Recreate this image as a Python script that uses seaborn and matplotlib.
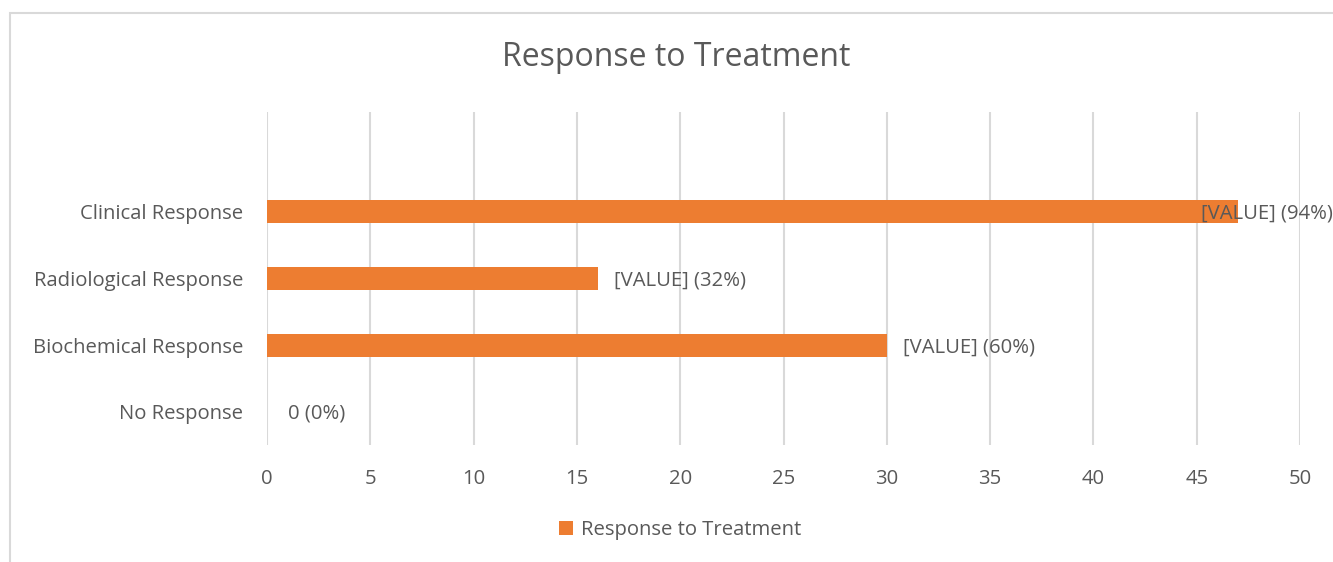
import matplotlib
matplotlib.use("Agg")
import matplotlib.pyplot as plt
from matplotlib.patches import Rectangle, Patch
import seaborn as sns
import pandas as pd

categories = ["Clinical Response", "Radiological Response", "Biochemical Response", "No Response"]
counts = [47, 16, 30, 0]
percents = [94, 32, 60, 0]
bar_labels = ["[VALUE] (94%)", "[VALUE] (32%)", "[VALUE] (60%)", "0 (0%)"]
x_ticks = [0, 5, 10, 15, 20, 25, 30, 35, 40, 45, 50]
series_name = "Response to Treatment"

sns.set_theme(style="white")
plt.rcParams["font.family"] = ["Open Sans", "DejaVu Sans"]

TEXT = "#595959"
GRID = "#D9D9D9"
ORANGE = "#ED7D31"
FS = 14.6

W, H = 1333, 562
fig = plt.figure(figsize=(W / 100, H / 100), dpi=100)
fig.patch.set_facecolor("white")

# chart frame (open on the right and bottom edges)
fig.patches.append(Rectangle((10 / W, -0.1), 1.2, 1 - 13 / H + 0.1,
                             transform=fig.transFigure, fill=False,
                             edgecolor=GRID, linewidth=1.5))

ax = fig.add_axes([267 / W, 1 - 445 / H, (1300 - 267) / W, (445 - 112) / H])
df = pd.DataFrame({"category": categories, "count": counts})
sns.barplot(data=df, x="count", y="category", orient="h", color=ORANGE,
            width=0.345, saturation=1, linewidth=0, ax=ax, zorder=3)

ax.set_xlim(0, 50)
ax.set_ylim(3.5, -1.5)
ax.set_xticks(x_ticks)
ax.set_xticklabels([str(t) for t in x_ticks])
ax.set_xlabel("")
ax.set_ylabel("")
for s in ax.spines.values():
    s.set_visible(False)
ax.grid(axis="x", color=GRID, linewidth=1.5, zorder=0)
ax.grid(axis="y", visible=False)
ax.tick_params(axis="x", length=0, pad=17, labelsize=FS, labelcolor=TEXT)
ax.tick_params(axis="y", length=0, pad=17, labelsize=FS, labelcolor=TEXT)

xmax = ax.get_xlim()[1]
for i, (v, lab) in enumerate(zip(counts, bar_labels)):
    if v > 0.85 * xmax:
        ax.annotate(lab, xy=(xmax, i), xytext=(24, -1.5), textcoords="offset points",
                    ha="right", va="center", fontsize=FS, color=TEXT, zorder=5)
    else:
        ax.annotate(lab, xy=(v, i), xytext=(12 if v > 0 else 15, -1.5),
                    textcoords="offset points", ha="left", va="center",
                    fontsize=FS, color=TEXT, zorder=5)

fig.text(676 / W, 1 - 58 / H, series_name, ha="center", va="center",
         fontsize=23, color=TEXT)

handle = Patch(facecolor=ORANGE, edgecolor="none", label=series_name)
fig.legend(handles=[handle], loc="center", bbox_to_anchor=(680 / W, 1 - 530 / H),
           frameon=False, fontsize=FS, labelcolor=TEXT, handlelength=0.7,
           handleheight=0.7, handletextpad=0.35)

fig.savefig("out.png", dpi=100, facecolor="white")
